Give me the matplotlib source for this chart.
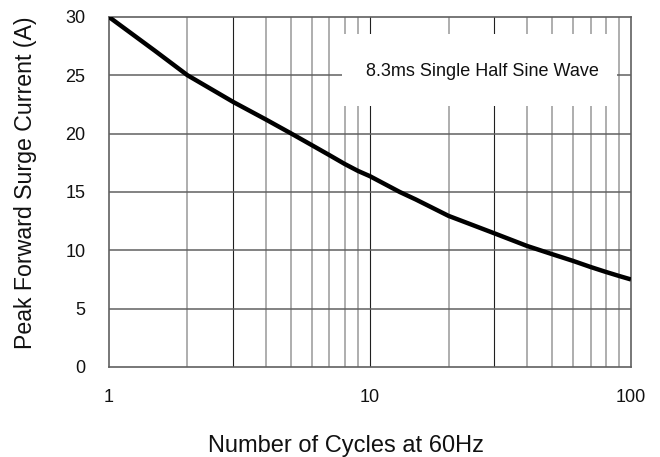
import matplotlib
matplotlib.use('Agg')
import matplotlib.pyplot as plt
from matplotlib.patches import Rectangle

# values
cycles = [1, 1.5, 2, 3, 4, 5, 6, 7, 8, 9, 10, 13, 15, 20, 30, 40, 50, 60, 70, 80, 90, 100]
surge_current = [30, 27.1, 25, 22.7, 21.2, 20.0, 19.0, 18.15, 17.4, 16.8, 16.35,
                 15.0, 14.35, 12.95, 11.45, 10.37, 9.66, 9.09, 8.57, 8.15, 7.8, 7.5]

x_ticks = [1, 10, 100]
x_tick_labels = ['1', '10', '100']
y_ticks = [0, 5, 10, 15, 20, 25, 30]
dark_grid = [3, 10, 30]
light_grid = [2, 4, 5, 6, 7, 8, 9, 20, 40, 50, 60, 70, 80, 90]

plt.rcParams['font.family'] = ['Liberation Sans', 'DejaVu Sans']

fig = plt.figure(figsize=(6.6, 4.57), dpi=100)
ax = fig.add_axes([0.165, 0.197, 0.791, 0.766])

ax.set_xscale('log')
ax.set_xlim(1, 100)
ax.set_ylim(0, 30)

# grid
for v in light_grid:
    ax.axvline(v, color='#a8a8a8', lw=1.3, zorder=1)
for v in dark_grid:
    ax.axvline(v, color='#202020', lw=0.8, zorder=1)
for h in y_ticks[1:-1]:
    ax.axhline(h, color='#606060', lw=1.1, zorder=1)

# white label box covering the grid
ax.add_patch(Rectangle((0.446, 0.746), 0.527, 0.205, transform=ax.transAxes,
                       facecolor='white', edgecolor='none', zorder=2))
ax.text(0.716, 0.843, '8.3ms Single Half Sine Wave', transform=ax.transAxes,
        ha='center', va='center', fontsize=13, color='#111111', zorder=3)

ax.plot(cycles, surge_current, color='black', lw=3.2, solid_capstyle='butt',
        solid_joinstyle='round', zorder=4)

ax.set_xticks(x_ticks)
ax.set_xticklabels(x_tick_labels)
ax.xaxis.set_minor_locator(matplotlib.ticker.NullLocator())
ax.set_yticks(y_ticks)
ax.tick_params(axis='both', length=0, labelsize=13, colors='#111111')
ax.tick_params(axis='x', pad=16)
ax.tick_params(axis='y', pad=17)

for s in ax.spines.values():
    s.set_color('#606060')
    s.set_linewidth(1.2)

ax.set_xlabel('Number of Cycles at 60Hz', fontsize=17, color='#111111')
ax.xaxis.set_label_coords(0.454, -0.195)
ax.set_ylabel('Peak Forward Surge Current (A)', fontsize=16.7, color='#111111')
ax.yaxis.set_label_coords(-0.138, 0.526)

fig.savefig('out.png', dpi=100, facecolor='white')
